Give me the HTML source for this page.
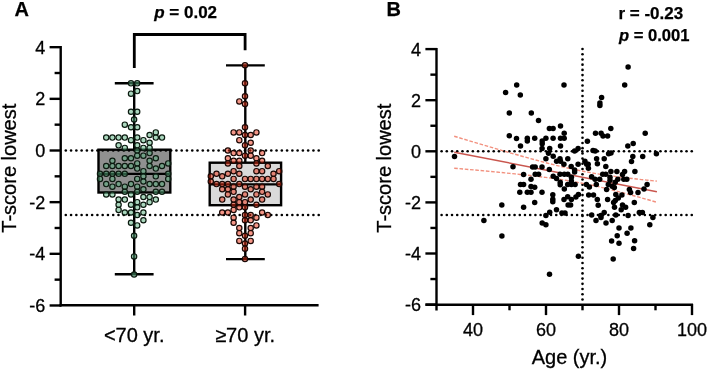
<!DOCTYPE html>
<html><head><meta charset="utf-8"><style>
html,body{margin:0;padding:0;background:#fff;}
body{width:708px;height:373px;position:relative;overflow:hidden;font-family:"Liberation Sans",sans-serif;}
svg{position:absolute;left:0;top:0;will-change:transform;}
.ax{stroke:#000;stroke-width:2.4;stroke-linecap:butt;}
.dot{stroke:#000;stroke-width:2.2;stroke-linecap:round;stroke-dasharray:0 5.25;}
.t{position:absolute;white-space:nowrap;line-height:1;color:#000;}
.b{font-weight:bold;}
</style></head><body>
<svg width="708" height="373" viewBox="0 0 708 373" font-family="Liberation Sans, sans-serif">
<line x1="60.7" y1="45.980000000000004" x2="60.7" y2="306.4" class="ax"/>
<line x1="59.5" y1="305.2" x2="318.6" y2="305.2" class="ax"/>
<line x1="49.6" y1="47.18" x2="61" y2="47.18" class="ax"/>
<line x1="49.6" y1="98.84" x2="61" y2="98.84" class="ax"/>
<line x1="49.6" y1="150.50" x2="61" y2="150.50" class="ax"/>
<line x1="49.6" y1="202.16" x2="61" y2="202.16" class="ax"/>
<line x1="49.6" y1="253.82" x2="61" y2="253.82" class="ax"/>
<line x1="49.6" y1="305.48" x2="61" y2="305.48" class="ax"/>
<line x1="54.6" y1="73.01" x2="61" y2="73.01" class="ax"/>
<line x1="54.6" y1="124.67" x2="61" y2="124.67" class="ax"/>
<line x1="54.6" y1="176.33" x2="61" y2="176.33" class="ax"/>
<line x1="54.6" y1="227.99" x2="61" y2="227.99" class="ax"/>
<line x1="54.6" y1="279.65" x2="61" y2="279.65" class="ax"/>
<line x1="134.2" y1="305" x2="134.2" y2="315.5" class="ax"/>
<line x1="245.1" y1="305" x2="245.1" y2="315.5" class="ax"/>
<polyline points="134.3,68.1 134.3,34.5 245.1,34.5 245.1,50.3" stroke="#000" stroke-width="2.8" fill="none"/>
<rect x="98.5" y="149.7" width="71.8" height="42.8" fill="#909090" stroke="#000" stroke-width="2.4"/>
<line x1="98.5" y1="173.9" x2="170.3" y2="173.9" class="ax"/>
<line x1="134.2" y1="83.3" x2="134.2" y2="149.7" class="ax"/>
<line x1="134.2" y1="192.5" x2="134.2" y2="274.3" class="ax"/>
<line x1="114.8" y1="83.3" x2="153.6" y2="83.3" class="ax"/>
<line x1="114.8" y1="274.3" x2="153.6" y2="274.3" class="ax"/>
<rect x="209.7" y="162.7" width="71.4" height="42.5" fill="#dadada" stroke="#000" stroke-width="2.4"/>
<line x1="209.7" y1="184.4" x2="281.1" y2="184.4" class="ax"/>
<line x1="245.3" y1="65.4" x2="245.3" y2="162.7" class="ax"/>
<line x1="245.3" y1="205.2" x2="245.3" y2="259.1" class="ax"/>
<line x1="226" y1="65.4" x2="264.8" y2="65.4" class="ax"/>
<line x1="226" y1="259.1" x2="264.8" y2="259.1" class="ax"/>
<g fill="#000"><circle cx="65.80" cy="150.45" r="1.3"/><circle cx="71.07" cy="150.45" r="1.3"/><circle cx="76.34" cy="150.45" r="1.3"/><circle cx="81.61" cy="150.45" r="1.3"/><circle cx="86.88" cy="150.45" r="1.3"/><circle cx="92.14" cy="150.45" r="1.3"/><circle cx="97.41" cy="150.45" r="1.3"/><circle cx="102.68" cy="150.45" r="1.3"/><circle cx="107.95" cy="150.45" r="1.3"/><circle cx="113.22" cy="150.45" r="1.3"/><circle cx="118.49" cy="150.45" r="1.3"/><circle cx="123.76" cy="150.45" r="1.3"/><circle cx="129.02" cy="150.45" r="1.3"/><circle cx="134.29" cy="150.45" r="1.3"/><circle cx="139.56" cy="150.45" r="1.3"/><circle cx="144.83" cy="150.45" r="1.3"/><circle cx="150.10" cy="150.45" r="1.3"/><circle cx="155.37" cy="150.45" r="1.3"/><circle cx="160.64" cy="150.45" r="1.3"/><circle cx="165.91" cy="150.45" r="1.3"/><circle cx="171.18" cy="150.45" r="1.3"/><circle cx="176.44" cy="150.45" r="1.3"/><circle cx="181.71" cy="150.45" r="1.3"/><circle cx="186.98" cy="150.45" r="1.3"/><circle cx="192.25" cy="150.45" r="1.3"/><circle cx="197.52" cy="150.45" r="1.3"/><circle cx="202.79" cy="150.45" r="1.3"/><circle cx="208.06" cy="150.45" r="1.3"/><circle cx="213.32" cy="150.45" r="1.3"/><circle cx="218.59" cy="150.45" r="1.3"/><circle cx="223.86" cy="150.45" r="1.3"/><circle cx="229.13" cy="150.45" r="1.3"/><circle cx="234.40" cy="150.45" r="1.3"/><circle cx="239.67" cy="150.45" r="1.3"/><circle cx="244.94" cy="150.45" r="1.3"/><circle cx="250.21" cy="150.45" r="1.3"/><circle cx="255.47" cy="150.45" r="1.3"/><circle cx="260.74" cy="150.45" r="1.3"/><circle cx="266.01" cy="150.45" r="1.3"/><circle cx="271.28" cy="150.45" r="1.3"/><circle cx="276.55" cy="150.45" r="1.3"/><circle cx="281.82" cy="150.45" r="1.3"/><circle cx="287.09" cy="150.45" r="1.3"/><circle cx="292.36" cy="150.45" r="1.3"/><circle cx="297.62" cy="150.45" r="1.3"/><circle cx="302.89" cy="150.45" r="1.3"/><circle cx="308.16" cy="150.45" r="1.3"/><circle cx="313.43" cy="150.45" r="1.3"/><circle cx="318.70" cy="150.45" r="1.3"/><circle cx="65.80" cy="215.0" r="1.3"/><circle cx="71.07" cy="215.0" r="1.3"/><circle cx="76.34" cy="215.0" r="1.3"/><circle cx="81.61" cy="215.0" r="1.3"/><circle cx="86.88" cy="215.0" r="1.3"/><circle cx="92.14" cy="215.0" r="1.3"/><circle cx="97.41" cy="215.0" r="1.3"/><circle cx="102.68" cy="215.0" r="1.3"/><circle cx="107.95" cy="215.0" r="1.3"/><circle cx="113.22" cy="215.0" r="1.3"/><circle cx="118.49" cy="215.0" r="1.3"/><circle cx="123.76" cy="215.0" r="1.3"/><circle cx="129.02" cy="215.0" r="1.3"/><circle cx="134.29" cy="215.0" r="1.3"/><circle cx="139.56" cy="215.0" r="1.3"/><circle cx="144.83" cy="215.0" r="1.3"/><circle cx="150.10" cy="215.0" r="1.3"/><circle cx="155.37" cy="215.0" r="1.3"/><circle cx="160.64" cy="215.0" r="1.3"/><circle cx="165.91" cy="215.0" r="1.3"/><circle cx="171.18" cy="215.0" r="1.3"/><circle cx="176.44" cy="215.0" r="1.3"/><circle cx="181.71" cy="215.0" r="1.3"/><circle cx="186.98" cy="215.0" r="1.3"/><circle cx="192.25" cy="215.0" r="1.3"/><circle cx="197.52" cy="215.0" r="1.3"/><circle cx="202.79" cy="215.0" r="1.3"/><circle cx="208.06" cy="215.0" r="1.3"/><circle cx="213.32" cy="215.0" r="1.3"/><circle cx="218.59" cy="215.0" r="1.3"/><circle cx="223.86" cy="215.0" r="1.3"/><circle cx="229.13" cy="215.0" r="1.3"/><circle cx="234.40" cy="215.0" r="1.3"/><circle cx="239.67" cy="215.0" r="1.3"/><circle cx="244.94" cy="215.0" r="1.3"/><circle cx="250.21" cy="215.0" r="1.3"/><circle cx="255.47" cy="215.0" r="1.3"/><circle cx="260.74" cy="215.0" r="1.3"/><circle cx="266.01" cy="215.0" r="1.3"/><circle cx="271.28" cy="215.0" r="1.3"/><circle cx="276.55" cy="215.0" r="1.3"/><circle cx="281.82" cy="215.0" r="1.3"/><circle cx="287.09" cy="215.0" r="1.3"/><circle cx="292.36" cy="215.0" r="1.3"/><circle cx="297.62" cy="215.0" r="1.3"/><circle cx="302.89" cy="215.0" r="1.3"/><circle cx="308.16" cy="215.0" r="1.3"/><circle cx="313.43" cy="215.0" r="1.3"/><circle cx="318.70" cy="215.0" r="1.3"/></g>
<g fill="#000"><circle cx="441.60" cy="151.3" r="1.3"/><circle cx="446.81" cy="151.3" r="1.3"/><circle cx="452.02" cy="151.3" r="1.3"/><circle cx="457.23" cy="151.3" r="1.3"/><circle cx="462.45" cy="151.3" r="1.3"/><circle cx="467.66" cy="151.3" r="1.3"/><circle cx="472.87" cy="151.3" r="1.3"/><circle cx="478.08" cy="151.3" r="1.3"/><circle cx="483.29" cy="151.3" r="1.3"/><circle cx="488.50" cy="151.3" r="1.3"/><circle cx="493.71" cy="151.3" r="1.3"/><circle cx="498.93" cy="151.3" r="1.3"/><circle cx="504.14" cy="151.3" r="1.3"/><circle cx="509.35" cy="151.3" r="1.3"/><circle cx="514.56" cy="151.3" r="1.3"/><circle cx="519.77" cy="151.3" r="1.3"/><circle cx="524.98" cy="151.3" r="1.3"/><circle cx="530.19" cy="151.3" r="1.3"/><circle cx="535.41" cy="151.3" r="1.3"/><circle cx="540.62" cy="151.3" r="1.3"/><circle cx="545.83" cy="151.3" r="1.3"/><circle cx="551.04" cy="151.3" r="1.3"/><circle cx="556.25" cy="151.3" r="1.3"/><circle cx="561.46" cy="151.3" r="1.3"/><circle cx="566.67" cy="151.3" r="1.3"/><circle cx="571.89" cy="151.3" r="1.3"/><circle cx="577.10" cy="151.3" r="1.3"/><circle cx="582.31" cy="151.3" r="1.3"/><circle cx="587.52" cy="151.3" r="1.3"/><circle cx="592.73" cy="151.3" r="1.3"/><circle cx="597.94" cy="151.3" r="1.3"/><circle cx="603.16" cy="151.3" r="1.3"/><circle cx="608.37" cy="151.3" r="1.3"/><circle cx="613.58" cy="151.3" r="1.3"/><circle cx="618.79" cy="151.3" r="1.3"/><circle cx="624.00" cy="151.3" r="1.3"/><circle cx="629.21" cy="151.3" r="1.3"/><circle cx="634.42" cy="151.3" r="1.3"/><circle cx="639.64" cy="151.3" r="1.3"/><circle cx="644.85" cy="151.3" r="1.3"/><circle cx="650.06" cy="151.3" r="1.3"/><circle cx="655.27" cy="151.3" r="1.3"/><circle cx="660.48" cy="151.3" r="1.3"/><circle cx="665.69" cy="151.3" r="1.3"/><circle cx="670.90" cy="151.3" r="1.3"/><circle cx="676.12" cy="151.3" r="1.3"/><circle cx="681.33" cy="151.3" r="1.3"/><circle cx="686.54" cy="151.3" r="1.3"/><circle cx="691.75" cy="151.3" r="1.3"/><circle cx="441.60" cy="215.0" r="1.3"/><circle cx="446.81" cy="215.0" r="1.3"/><circle cx="452.02" cy="215.0" r="1.3"/><circle cx="457.23" cy="215.0" r="1.3"/><circle cx="462.45" cy="215.0" r="1.3"/><circle cx="467.66" cy="215.0" r="1.3"/><circle cx="472.87" cy="215.0" r="1.3"/><circle cx="478.08" cy="215.0" r="1.3"/><circle cx="483.29" cy="215.0" r="1.3"/><circle cx="488.50" cy="215.0" r="1.3"/><circle cx="493.71" cy="215.0" r="1.3"/><circle cx="498.93" cy="215.0" r="1.3"/><circle cx="504.14" cy="215.0" r="1.3"/><circle cx="509.35" cy="215.0" r="1.3"/><circle cx="514.56" cy="215.0" r="1.3"/><circle cx="519.77" cy="215.0" r="1.3"/><circle cx="524.98" cy="215.0" r="1.3"/><circle cx="530.19" cy="215.0" r="1.3"/><circle cx="535.41" cy="215.0" r="1.3"/><circle cx="540.62" cy="215.0" r="1.3"/><circle cx="545.83" cy="215.0" r="1.3"/><circle cx="551.04" cy="215.0" r="1.3"/><circle cx="556.25" cy="215.0" r="1.3"/><circle cx="561.46" cy="215.0" r="1.3"/><circle cx="566.67" cy="215.0" r="1.3"/><circle cx="571.89" cy="215.0" r="1.3"/><circle cx="577.10" cy="215.0" r="1.3"/><circle cx="582.31" cy="215.0" r="1.3"/><circle cx="587.52" cy="215.0" r="1.3"/><circle cx="592.73" cy="215.0" r="1.3"/><circle cx="597.94" cy="215.0" r="1.3"/><circle cx="603.16" cy="215.0" r="1.3"/><circle cx="608.37" cy="215.0" r="1.3"/><circle cx="613.58" cy="215.0" r="1.3"/><circle cx="618.79" cy="215.0" r="1.3"/><circle cx="624.00" cy="215.0" r="1.3"/><circle cx="629.21" cy="215.0" r="1.3"/><circle cx="634.42" cy="215.0" r="1.3"/><circle cx="639.64" cy="215.0" r="1.3"/><circle cx="644.85" cy="215.0" r="1.3"/><circle cx="650.06" cy="215.0" r="1.3"/><circle cx="655.27" cy="215.0" r="1.3"/><circle cx="660.48" cy="215.0" r="1.3"/><circle cx="665.69" cy="215.0" r="1.3"/><circle cx="670.90" cy="215.0" r="1.3"/><circle cx="676.12" cy="215.0" r="1.3"/><circle cx="681.33" cy="215.0" r="1.3"/><circle cx="686.54" cy="215.0" r="1.3"/><circle cx="691.75" cy="215.0" r="1.3"/><circle cx="582.5" cy="49.00" r="1.3"/><circle cx="582.5" cy="54.22" r="1.3"/><circle cx="582.5" cy="59.44" r="1.3"/><circle cx="582.5" cy="64.66" r="1.3"/><circle cx="582.5" cy="69.88" r="1.3"/><circle cx="582.5" cy="75.09" r="1.3"/><circle cx="582.5" cy="80.31" r="1.3"/><circle cx="582.5" cy="85.53" r="1.3"/><circle cx="582.5" cy="90.75" r="1.3"/><circle cx="582.5" cy="95.97" r="1.3"/><circle cx="582.5" cy="101.19" r="1.3"/><circle cx="582.5" cy="106.41" r="1.3"/><circle cx="582.5" cy="111.62" r="1.3"/><circle cx="582.5" cy="116.84" r="1.3"/><circle cx="582.5" cy="122.06" r="1.3"/><circle cx="582.5" cy="127.28" r="1.3"/><circle cx="582.5" cy="132.50" r="1.3"/><circle cx="582.5" cy="137.72" r="1.3"/><circle cx="582.5" cy="142.94" r="1.3"/><circle cx="582.5" cy="148.16" r="1.3"/><circle cx="582.5" cy="153.38" r="1.3"/><circle cx="582.5" cy="158.59" r="1.3"/><circle cx="582.5" cy="163.81" r="1.3"/><circle cx="582.5" cy="169.03" r="1.3"/><circle cx="582.5" cy="174.25" r="1.3"/><circle cx="582.5" cy="179.47" r="1.3"/><circle cx="582.5" cy="184.69" r="1.3"/><circle cx="582.5" cy="189.91" r="1.3"/><circle cx="582.5" cy="195.12" r="1.3"/><circle cx="582.5" cy="200.34" r="1.3"/><circle cx="582.5" cy="205.56" r="1.3"/><circle cx="582.5" cy="210.78" r="1.3"/><circle cx="582.5" cy="216.00" r="1.3"/><circle cx="582.5" cy="221.22" r="1.3"/><circle cx="582.5" cy="226.44" r="1.3"/><circle cx="582.5" cy="231.66" r="1.3"/><circle cx="582.5" cy="236.88" r="1.3"/><circle cx="582.5" cy="242.09" r="1.3"/><circle cx="582.5" cy="247.31" r="1.3"/><circle cx="582.5" cy="252.53" r="1.3"/><circle cx="582.5" cy="257.75" r="1.3"/><circle cx="582.5" cy="262.97" r="1.3"/><circle cx="582.5" cy="268.19" r="1.3"/><circle cx="582.5" cy="273.41" r="1.3"/><circle cx="582.5" cy="278.62" r="1.3"/><circle cx="582.5" cy="283.84" r="1.3"/><circle cx="582.5" cy="289.06" r="1.3"/><circle cx="582.5" cy="294.28" r="1.3"/><circle cx="582.5" cy="299.50" r="1.3"/></g>
<line x1="436.5" y1="47.90" x2="436.5" y2="310.5" class="ax"/>
<line x1="425.5" y1="304.8" x2="693" y2="304.8" class="ax"/>
<line x1="425.4" y1="49.10" x2="437" y2="49.10" class="ax"/>
<line x1="425.4" y1="100.20" x2="437" y2="100.20" class="ax"/>
<line x1="425.4" y1="151.30" x2="437" y2="151.30" class="ax"/>
<line x1="425.4" y1="202.40" x2="437" y2="202.40" class="ax"/>
<line x1="425.4" y1="253.50" x2="437" y2="253.50" class="ax"/>
<line x1="425.4" y1="304.60" x2="437" y2="304.60" class="ax"/>
<line x1="430.4" y1="74.65" x2="437" y2="74.65" class="ax"/>
<line x1="430.4" y1="125.75" x2="437" y2="125.75" class="ax"/>
<line x1="430.4" y1="176.85" x2="437" y2="176.85" class="ax"/>
<line x1="430.4" y1="227.95" x2="437" y2="227.95" class="ax"/>
<line x1="430.4" y1="279.05" x2="437" y2="279.05" class="ax"/>
<line x1="473.00" y1="304" x2="473.00" y2="315.1" class="ax"/>
<line x1="546.00" y1="304" x2="546.00" y2="315.1" class="ax"/>
<line x1="619.00" y1="304" x2="619.00" y2="315.1" class="ax"/>
<line x1="692.00" y1="304" x2="692.00" y2="315.1" class="ax"/>
<line x1="509.50" y1="304" x2="509.50" y2="310.3" class="ax"/>
<line x1="582.50" y1="304" x2="582.50" y2="310.3" class="ax"/>
<line x1="655.50" y1="304" x2="655.50" y2="310.3" class="ax"/>
<line x1="454.2" y1="152.20" x2="656.9" y2="191.73" stroke="#c9564e" stroke-width="1.4"/>
<polyline points="454.2,136.22 459.3,137.75 464.3,139.28 469.4,140.80 474.5,142.32 479.5,143.83 484.6,145.34 489.7,146.84 494.7,148.33 499.8,149.82 504.9,151.30 509.9,152.77 515.0,154.22 520.1,155.67 525.1,157.09 530.2,158.50 535.3,159.89 540.3,161.26 545.4,162.60 550.5,163.90 555.5,165.18 560.6,166.41 565.7,167.59 570.8,168.73 575.8,169.82 580.9,170.84 586.0,171.82 591.0,172.73 596.1,173.60 601.2,174.41 606.2,175.17 611.3,175.89 616.4,176.58 621.4,177.23 626.5,177.85 631.6,178.44 636.6,179.02 641.7,179.58 646.8,180.12 651.8,180.64 656.9,181.15" fill="none" stroke="#f2907e" stroke-width="1.4" stroke-dasharray="3.6 1.7"/>
<polyline points="454.2,168.18 459.3,168.62 464.3,169.07 469.4,169.53 474.5,169.99 479.5,170.45 484.6,170.92 489.7,171.40 494.7,171.88 499.8,172.37 504.9,172.87 509.9,173.37 515.0,173.89 520.1,174.43 525.1,174.98 530.2,175.54 535.3,176.13 540.3,176.74 545.4,177.38 550.5,178.05 555.5,178.75 560.6,179.49 565.7,180.28 570.8,181.12 575.8,182.02 580.9,182.96 586.0,183.97 591.0,185.03 596.1,186.14 601.2,187.31 606.2,188.52 611.3,189.77 616.4,191.07 621.4,192.39 626.5,193.75 631.6,195.13 636.6,196.53 641.7,197.95 646.8,199.38 651.8,200.84 656.9,202.30" fill="none" stroke="#f2907e" stroke-width="1.4" stroke-dasharray="3.6 1.7"/>
<g fill="#000"><circle cx="505.6" cy="92.6" r="2.75"/><circle cx="516.7" cy="84.9" r="2.75"/><circle cx="520.3" cy="95.1" r="2.75"/><circle cx="564.0" cy="84.9" r="2.75"/><circle cx="628.1" cy="66.9" r="2.75"/><circle cx="624.7" cy="85.1" r="2.75"/><circle cx="601.6" cy="97.6" r="2.75"/><circle cx="599.9" cy="102.9" r="2.75"/><circle cx="599.9" cy="105.6" r="2.75"/><circle cx="509.3" cy="113.0" r="2.75"/><circle cx="531.3" cy="113.1" r="2.75"/><circle cx="538.5" cy="120.5" r="2.75"/><circle cx="560.5" cy="125.9" r="2.75"/><circle cx="549.4" cy="128.4" r="2.75"/><circle cx="553.1" cy="128.4" r="2.75"/><circle cx="564.2" cy="133.3" r="2.75"/><circle cx="509.3" cy="135.8" r="2.75"/><circle cx="516.5" cy="138.6" r="2.75"/><circle cx="527.3" cy="138.3" r="2.75"/><circle cx="527.3" cy="141.0" r="2.75"/><circle cx="534.7" cy="138.3" r="2.75"/><circle cx="545.9" cy="138.3" r="2.75"/><circle cx="542.2" cy="141.0" r="2.75"/><circle cx="542.2" cy="143.8" r="2.75"/><circle cx="553.1" cy="138.3" r="2.75"/><circle cx="560.5" cy="138.3" r="2.75"/><circle cx="564.2" cy="138.3" r="2.75"/><circle cx="520.5" cy="146.0" r="2.75"/><circle cx="560.5" cy="146.0" r="2.75"/><circle cx="542.1" cy="148.4" r="2.75"/><circle cx="549.7" cy="148.4" r="2.75"/><circle cx="454.5" cy="156.5" r="2.75"/><circle cx="610.8" cy="128.4" r="2.75"/><circle cx="595.5" cy="133.3" r="2.75"/><circle cx="601.1" cy="133.3" r="2.75"/><circle cx="603.0" cy="136.1" r="2.75"/><circle cx="607.6" cy="136.1" r="2.75"/><circle cx="645.2" cy="133.3" r="2.75"/><circle cx="587.4" cy="141.3" r="2.75"/><circle cx="633.2" cy="143.5" r="2.75"/><circle cx="627.8" cy="146.0" r="2.75"/><circle cx="578.1" cy="148.5" r="2.75"/><circle cx="593.0" cy="150.4" r="2.75"/><circle cx="548.5" cy="153.2" r="2.75"/><circle cx="553.2" cy="156.2" r="2.75"/><circle cx="545.9" cy="158.7" r="2.75"/><circle cx="560.0" cy="158.7" r="2.75"/><circle cx="567.8" cy="158.7" r="2.75"/><circle cx="556.6" cy="161.3" r="2.75"/><circle cx="560.5" cy="161.3" r="2.75"/><circle cx="563.9" cy="164.3" r="2.75"/><circle cx="574.6" cy="151.0" r="2.75"/><circle cx="532.6" cy="166.9" r="2.75"/><circle cx="535.2" cy="166.9" r="2.75"/><circle cx="542.0" cy="166.9" r="2.75"/><circle cx="549.3" cy="169.5" r="2.75"/><circle cx="571.2" cy="166.5" r="2.75"/><circle cx="578.1" cy="164.3" r="2.75"/><circle cx="574.6" cy="169.9" r="2.75"/><circle cx="574.6" cy="172.0" r="2.75"/><circle cx="586.7" cy="164.3" r="2.75"/><circle cx="588.4" cy="168.2" r="2.75"/><circle cx="535.2" cy="174.2" r="2.75"/><circle cx="538.6" cy="174.2" r="2.75"/><circle cx="553.2" cy="176.3" r="2.75"/><circle cx="560.0" cy="174.2" r="2.75"/><circle cx="564.3" cy="174.2" r="2.75"/><circle cx="567.8" cy="174.2" r="2.75"/><circle cx="513.0" cy="166.8" r="2.75"/><circle cx="523.6" cy="174.6" r="2.75"/><circle cx="531.0" cy="179.2" r="2.75"/><circle cx="556.5" cy="178.6" r="2.75"/><circle cx="571.4" cy="177.3" r="2.75"/><circle cx="560.2" cy="182.3" r="2.75"/><circle cx="560.2" cy="184.8" r="2.75"/><circle cx="567.7" cy="184.5" r="2.75"/><circle cx="571.4" cy="184.5" r="2.75"/><circle cx="575.1" cy="184.5" r="2.75"/><circle cx="571.4" cy="181.0" r="2.75"/><circle cx="520.5" cy="184.5" r="2.75"/><circle cx="523.6" cy="184.5" r="2.75"/><circle cx="531.0" cy="186.6" r="2.75"/><circle cx="534.7" cy="187.3" r="2.75"/><circle cx="564.3" cy="189.1" r="2.75"/><circle cx="595.2" cy="151.0" r="2.75"/><circle cx="608.6" cy="153.7" r="2.75"/><circle cx="611.0" cy="153.1" r="2.75"/><circle cx="632.8" cy="156.4" r="2.75"/><circle cx="642.7" cy="156.4" r="2.75"/><circle cx="656.4" cy="153.7" r="2.75"/><circle cx="631.5" cy="161.5" r="2.75"/><circle cx="596.6" cy="158.7" r="2.75"/><circle cx="597.4" cy="163.8" r="2.75"/><circle cx="604.2" cy="158.7" r="2.75"/><circle cx="605.8" cy="166.6" r="2.75"/><circle cx="584.9" cy="161.2" r="2.75"/><circle cx="588.2" cy="164.3" r="2.75"/><circle cx="610.9" cy="171.6" r="2.75"/><circle cx="616.9" cy="171.6" r="2.75"/><circle cx="624.6" cy="171.6" r="2.75"/><circle cx="634.9" cy="171.6" r="2.75"/><circle cx="602.7" cy="174.2" r="2.75"/><circle cx="605.8" cy="174.2" r="2.75"/><circle cx="622.5" cy="174.5" r="2.75"/><circle cx="591.6" cy="176.7" r="2.75"/><circle cx="595.0" cy="179.3" r="2.75"/><circle cx="599.7" cy="179.3" r="2.75"/><circle cx="610.0" cy="177.2" r="2.75"/><circle cx="610.0" cy="180.2" r="2.75"/><circle cx="617.8" cy="179.3" r="2.75"/><circle cx="623.8" cy="179.3" r="2.75"/><circle cx="626.8" cy="179.3" r="2.75"/><circle cx="615.2" cy="182.3" r="2.75"/><circle cx="596.3" cy="184.5" r="2.75"/><circle cx="586.4" cy="184.5" r="2.75"/><circle cx="589.4" cy="187.0" r="2.75"/><circle cx="608.3" cy="184.5" r="2.75"/><circle cx="612.2" cy="186.2" r="2.75"/><circle cx="614.3" cy="187.5" r="2.75"/><circle cx="606.6" cy="189.6" r="2.75"/><circle cx="629.4" cy="189.6" r="2.75"/><circle cx="644.0" cy="189.1" r="2.75"/><circle cx="647.1" cy="184.5" r="2.75"/><circle cx="638.0" cy="192.4" r="2.75"/><circle cx="630.6" cy="192.4" r="2.75"/><circle cx="621.9" cy="194.9" r="2.75"/><circle cx="634.3" cy="202.4" r="2.75"/><circle cx="622.5" cy="204.9" r="2.75"/><circle cx="625.6" cy="207.3" r="2.75"/><circle cx="621.2" cy="209.8" r="2.75"/><circle cx="628.1" cy="215.4" r="2.75"/><circle cx="639.3" cy="212.6" r="2.75"/><circle cx="642.4" cy="212.6" r="2.75"/><circle cx="652.9" cy="217.5" r="2.75"/><circle cx="649.8" cy="224.7" r="2.75"/><circle cx="578.4" cy="194.4" r="2.75"/><circle cx="575.9" cy="197.0" r="2.75"/><circle cx="588.7" cy="194.9" r="2.75"/><circle cx="593.5" cy="194.9" r="2.75"/><circle cx="597.3" cy="199.6" r="2.75"/><circle cx="598.2" cy="205.2" r="2.75"/><circle cx="607.6" cy="199.6" r="2.75"/><circle cx="615.8" cy="194.4" r="2.75"/><circle cx="618.3" cy="197.9" r="2.75"/><circle cx="615.3" cy="200.5" r="2.75"/><circle cx="613.6" cy="202.6" r="2.75"/><circle cx="614.5" cy="207.3" r="2.75"/><circle cx="604.2" cy="212.5" r="2.75"/><circle cx="591.7" cy="215.0" r="2.75"/><circle cx="600.8" cy="215.5" r="2.75"/><circle cx="615.8" cy="215.0" r="2.75"/><circle cx="568.1" cy="205.0" r="2.75"/><circle cx="570.6" cy="205.0" r="2.75"/><circle cx="561.9" cy="213.1" r="2.75"/><circle cx="565.0" cy="213.1" r="2.75"/><circle cx="601.0" cy="217.4" r="2.75"/><circle cx="596.0" cy="220.5" r="2.75"/><circle cx="606.0" cy="223.0" r="2.75"/><circle cx="612.2" cy="220.5" r="2.75"/><circle cx="619.0" cy="228.0" r="2.75"/><circle cx="630.9" cy="228.0" r="2.75"/><circle cx="627.1" cy="233.3" r="2.75"/><circle cx="617.2" cy="235.8" r="2.75"/><circle cx="611.6" cy="241.0" r="2.75"/><circle cx="619.0" cy="243.3" r="2.75"/><circle cx="634.6" cy="240.8" r="2.75"/><circle cx="633.6" cy="248.5" r="2.75"/><circle cx="519.8" cy="192.2" r="2.75"/><circle cx="527.3" cy="192.2" r="2.75"/><circle cx="531.0" cy="192.2" r="2.75"/><circle cx="542.0" cy="192.2" r="2.75"/><circle cx="552.8" cy="194.7" r="2.75"/><circle cx="552.8" cy="199.3" r="2.75"/><circle cx="552.8" cy="201.8" r="2.75"/><circle cx="564.0" cy="199.6" r="2.75"/><circle cx="567.7" cy="196.8" r="2.75"/><circle cx="571.4" cy="199.6" r="2.75"/><circle cx="501.8" cy="204.9" r="2.75"/><circle cx="523.6" cy="207.3" r="2.75"/><circle cx="534.7" cy="202.4" r="2.75"/><circle cx="549.7" cy="212.3" r="2.75"/><circle cx="545.9" cy="215.4" r="2.75"/><circle cx="556.5" cy="209.8" r="2.75"/><circle cx="542.2" cy="222.9" r="2.75"/><circle cx="545.9" cy="224.7" r="2.75"/><circle cx="483.9" cy="220.5" r="2.75"/><circle cx="501.9" cy="236.0" r="2.75"/><circle cx="578.4" cy="256.2" r="2.75"/><circle cx="613.2" cy="258.9" r="2.75"/><circle cx="549.5" cy="274.2" r="2.75"/></g>
<g fill="rgb(85,175,125)" fill-opacity="0.5" stroke="#0c1a10" stroke-width="1.2"><circle cx="131.00" cy="83.34" r="2.65"/><circle cx="137.20" cy="83.34" r="2.65"/><circle cx="137.20" cy="91.09" r="2.65"/><circle cx="131.00" cy="93.67" r="2.65"/><circle cx="131.00" cy="111.75" r="2.65"/><circle cx="137.20" cy="111.75" r="2.65"/><circle cx="134.10" cy="119.50" r="2.65"/><circle cx="124.80" cy="124.67" r="2.65"/><circle cx="131.00" cy="127.25" r="2.65"/><circle cx="137.20" cy="127.25" r="2.65"/><circle cx="106.20" cy="137.59" r="2.65"/><circle cx="112.40" cy="137.59" r="2.65"/><circle cx="118.60" cy="137.59" r="2.65"/><circle cx="124.80" cy="137.59" r="2.65"/><circle cx="131.00" cy="140.17" r="2.65"/><circle cx="137.20" cy="137.59" r="2.65"/><circle cx="143.40" cy="140.17" r="2.65"/><circle cx="149.60" cy="135.00" r="2.65"/><circle cx="155.80" cy="132.42" r="2.65"/><circle cx="155.80" cy="137.59" r="2.65"/><circle cx="162.00" cy="137.59" r="2.65"/><circle cx="149.60" cy="142.75" r="2.65"/><circle cx="118.60" cy="145.33" r="2.65"/><circle cx="124.80" cy="147.92" r="2.65"/><circle cx="137.20" cy="145.33" r="2.65"/><circle cx="143.40" cy="147.92" r="2.65"/><circle cx="149.60" cy="147.92" r="2.65"/><circle cx="137.20" cy="150.50" r="2.65"/><circle cx="149.60" cy="153.08" r="2.65"/><circle cx="137.20" cy="155.67" r="2.65"/><circle cx="143.40" cy="155.67" r="2.65"/><circle cx="124.80" cy="158.25" r="2.65"/><circle cx="131.00" cy="158.25" r="2.65"/><circle cx="155.80" cy="158.25" r="2.65"/><circle cx="112.40" cy="160.83" r="2.65"/><circle cx="149.60" cy="160.83" r="2.65"/><circle cx="137.20" cy="163.41" r="2.65"/><circle cx="168.20" cy="163.41" r="2.65"/><circle cx="106.20" cy="166.00" r="2.65"/><circle cx="112.40" cy="166.00" r="2.65"/><circle cx="118.60" cy="166.00" r="2.65"/><circle cx="124.80" cy="166.00" r="2.65"/><circle cx="131.00" cy="166.00" r="2.65"/><circle cx="149.60" cy="166.00" r="2.65"/><circle cx="162.00" cy="166.00" r="2.65"/><circle cx="137.20" cy="168.58" r="2.65"/><circle cx="155.80" cy="168.58" r="2.65"/><circle cx="143.40" cy="171.16" r="2.65"/><circle cx="100.00" cy="173.75" r="2.65"/><circle cx="106.20" cy="173.75" r="2.65"/><circle cx="112.40" cy="173.75" r="2.65"/><circle cx="118.60" cy="173.75" r="2.65"/><circle cx="124.80" cy="173.75" r="2.65"/><circle cx="168.20" cy="173.75" r="2.65"/><circle cx="143.40" cy="176.33" r="2.65"/><circle cx="155.80" cy="176.33" r="2.65"/><circle cx="100.00" cy="178.91" r="2.65"/><circle cx="112.40" cy="178.91" r="2.65"/><circle cx="137.20" cy="178.91" r="2.65"/><circle cx="168.20" cy="178.91" r="2.65"/><circle cx="143.40" cy="181.50" r="2.65"/><circle cx="106.20" cy="184.08" r="2.65"/><circle cx="118.60" cy="184.08" r="2.65"/><circle cx="131.00" cy="184.08" r="2.65"/><circle cx="149.60" cy="184.08" r="2.65"/><circle cx="155.80" cy="184.08" r="2.65"/><circle cx="162.00" cy="184.08" r="2.65"/><circle cx="112.40" cy="186.66" r="2.65"/><circle cx="124.80" cy="186.66" r="2.65"/><circle cx="137.20" cy="186.66" r="2.65"/><circle cx="143.40" cy="189.25" r="2.65"/><circle cx="124.80" cy="191.83" r="2.65"/><circle cx="137.20" cy="191.83" r="2.65"/><circle cx="155.80" cy="191.83" r="2.65"/><circle cx="162.00" cy="191.83" r="2.65"/><circle cx="106.20" cy="194.41" r="2.65"/><circle cx="112.40" cy="194.41" r="2.65"/><circle cx="131.00" cy="194.41" r="2.65"/><circle cx="143.40" cy="196.99" r="2.65"/><circle cx="149.60" cy="196.99" r="2.65"/><circle cx="118.60" cy="199.58" r="2.65"/><circle cx="124.80" cy="199.58" r="2.65"/><circle cx="155.80" cy="199.58" r="2.65"/><circle cx="137.20" cy="202.16" r="2.65"/><circle cx="149.60" cy="202.16" r="2.65"/><circle cx="118.60" cy="204.74" r="2.65"/><circle cx="131.00" cy="204.74" r="2.65"/><circle cx="143.40" cy="204.74" r="2.65"/><circle cx="137.20" cy="207.33" r="2.65"/><circle cx="118.60" cy="209.91" r="2.65"/><circle cx="124.80" cy="212.49" r="2.65"/><circle cx="131.00" cy="212.49" r="2.65"/><circle cx="143.40" cy="212.49" r="2.65"/><circle cx="137.20" cy="215.07" r="2.65"/><circle cx="143.40" cy="220.24" r="2.65"/><circle cx="131.00" cy="222.82" r="2.65"/><circle cx="137.20" cy="225.41" r="2.65"/><circle cx="134.10" cy="235.74" r="2.65"/><circle cx="134.10" cy="256.40" r="2.65"/><circle cx="134.10" cy="274.48" r="2.65"/></g>
<g fill="rgb(235,45,15)" fill-opacity="0.5" stroke="#1a0805" stroke-width="1.2"><circle cx="245.00" cy="65.26" r="2.65"/><circle cx="245.00" cy="83.34" r="2.65"/><circle cx="245.00" cy="96.26" r="2.65"/><circle cx="239.30" cy="101.42" r="2.65"/><circle cx="245.00" cy="104.01" r="2.65"/><circle cx="245.00" cy="127.25" r="2.65"/><circle cx="233.60" cy="132.42" r="2.65"/><circle cx="239.30" cy="132.42" r="2.65"/><circle cx="245.00" cy="135.00" r="2.65"/><circle cx="250.70" cy="135.00" r="2.65"/><circle cx="256.40" cy="132.42" r="2.65"/><circle cx="239.30" cy="140.17" r="2.65"/><circle cx="250.70" cy="142.75" r="2.65"/><circle cx="245.00" cy="145.33" r="2.65"/><circle cx="227.90" cy="150.50" r="2.65"/><circle cx="250.70" cy="150.50" r="2.65"/><circle cx="233.60" cy="153.08" r="2.65"/><circle cx="239.30" cy="153.08" r="2.65"/><circle cx="262.10" cy="153.08" r="2.65"/><circle cx="245.00" cy="155.67" r="2.65"/><circle cx="250.70" cy="155.67" r="2.65"/><circle cx="227.90" cy="158.25" r="2.65"/><circle cx="256.40" cy="158.25" r="2.65"/><circle cx="233.60" cy="160.83" r="2.65"/><circle cx="239.30" cy="160.83" r="2.65"/><circle cx="262.10" cy="160.83" r="2.65"/><circle cx="227.90" cy="163.41" r="2.65"/><circle cx="256.40" cy="163.41" r="2.65"/><circle cx="239.30" cy="166.00" r="2.65"/><circle cx="267.80" cy="166.00" r="2.65"/><circle cx="233.60" cy="171.16" r="2.65"/><circle cx="256.40" cy="171.16" r="2.65"/><circle cx="262.10" cy="171.16" r="2.65"/><circle cx="279.20" cy="171.16" r="2.65"/><circle cx="216.50" cy="173.75" r="2.65"/><circle cx="227.90" cy="173.75" r="2.65"/><circle cx="239.30" cy="173.75" r="2.65"/><circle cx="273.50" cy="173.75" r="2.65"/><circle cx="210.80" cy="176.33" r="2.65"/><circle cx="222.20" cy="176.33" r="2.65"/><circle cx="233.60" cy="178.91" r="2.65"/><circle cx="245.00" cy="178.91" r="2.65"/><circle cx="250.70" cy="178.91" r="2.65"/><circle cx="256.40" cy="178.91" r="2.65"/><circle cx="262.10" cy="178.91" r="2.65"/><circle cx="267.80" cy="178.91" r="2.65"/><circle cx="273.50" cy="178.91" r="2.65"/><circle cx="210.80" cy="181.50" r="2.65"/><circle cx="216.50" cy="184.08" r="2.65"/><circle cx="222.20" cy="184.08" r="2.65"/><circle cx="227.90" cy="184.08" r="2.65"/><circle cx="239.30" cy="184.08" r="2.65"/><circle cx="279.20" cy="184.08" r="2.65"/><circle cx="233.60" cy="186.66" r="2.65"/><circle cx="245.00" cy="186.66" r="2.65"/><circle cx="256.40" cy="186.66" r="2.65"/><circle cx="262.10" cy="186.66" r="2.65"/><circle cx="222.20" cy="189.25" r="2.65"/><circle cx="227.90" cy="189.25" r="2.65"/><circle cx="250.70" cy="189.25" r="2.65"/><circle cx="233.60" cy="191.83" r="2.65"/><circle cx="262.10" cy="191.83" r="2.65"/><circle cx="227.90" cy="194.41" r="2.65"/><circle cx="245.00" cy="194.41" r="2.65"/><circle cx="256.40" cy="194.41" r="2.65"/><circle cx="267.80" cy="194.41" r="2.65"/><circle cx="239.30" cy="196.99" r="2.65"/><circle cx="222.20" cy="199.58" r="2.65"/><circle cx="233.60" cy="199.58" r="2.65"/><circle cx="250.70" cy="199.58" r="2.65"/><circle cx="262.10" cy="199.58" r="2.65"/><circle cx="239.30" cy="202.16" r="2.65"/><circle cx="245.00" cy="202.16" r="2.65"/><circle cx="233.60" cy="204.74" r="2.65"/><circle cx="256.40" cy="204.74" r="2.65"/><circle cx="239.30" cy="207.33" r="2.65"/><circle cx="245.00" cy="207.33" r="2.65"/><circle cx="233.60" cy="209.91" r="2.65"/><circle cx="222.20" cy="212.49" r="2.65"/><circle cx="227.90" cy="212.49" r="2.65"/><circle cx="262.10" cy="212.49" r="2.65"/><circle cx="245.00" cy="215.07" r="2.65"/><circle cx="250.70" cy="215.07" r="2.65"/><circle cx="267.80" cy="215.07" r="2.65"/><circle cx="233.60" cy="217.66" r="2.65"/><circle cx="256.40" cy="217.66" r="2.65"/><circle cx="245.00" cy="220.24" r="2.65"/><circle cx="250.70" cy="220.24" r="2.65"/><circle cx="233.60" cy="222.82" r="2.65"/><circle cx="256.40" cy="225.41" r="2.65"/><circle cx="239.30" cy="227.99" r="2.65"/><circle cx="250.70" cy="227.99" r="2.65"/><circle cx="239.30" cy="233.16" r="2.65"/><circle cx="250.70" cy="233.16" r="2.65"/><circle cx="245.00" cy="235.74" r="2.65"/><circle cx="239.30" cy="240.91" r="2.65"/><circle cx="250.70" cy="240.91" r="2.65"/><circle cx="245.00" cy="243.49" r="2.65"/><circle cx="245.00" cy="248.65" r="2.65"/><circle cx="245.00" cy="258.99" r="2.65"/></g>
<g font-size="18" text-anchor="end" stroke="#000" stroke-width="0.3">
<text x="45.3" y="53.58">4</text><text x="45.3" y="105.24">2</text><text x="45.3" y="156.90">0</text><text x="45.3" y="208.56">-2</text><text x="45.3" y="260.22">-4</text><text x="45.3" y="311.88">-6</text>
<text x="421" y="55.50">4</text><text x="421" y="106.60">2</text><text x="421" y="157.70">0</text><text x="421" y="208.80">-2</text><text x="421" y="259.90">-4</text><text x="421" y="311.00">-6</text>
</g>
<g font-weight="bold" stroke="#000" stroke-width="0.25">
<text x="14.4" y="15.6" font-size="20">A</text>
<text x="386.4" y="15.5" font-size="20">B</text>
<text x="154.2" y="18.0" font-size="17"><tspan font-style="italic">p</tspan> = 0.02</text>
<text x="618.4" y="19.3" font-size="17">r = -0.23</text>
<text x="618.9" y="40.6" font-size="16.6"><tspan font-style="italic">p</tspan> = 0.001</text>
</g>
<g font-size="18" text-anchor="middle" stroke="#000" stroke-width="0.3">
<text x="134.2" y="341.8" font-size="20">&lt;70 yr.</text>
<text x="245.1" y="341.8" font-size="20">≥70 yr.</text>
<text x="473.00" y="336.2">40</text><text x="546.00" y="336.2">60</text><text x="619.00" y="336.2">80</text><text x="692.00" y="336.2">100</text>
<text x="569.5" y="363.9" font-size="20">Age (yr.)</text>
</g>
<text transform="translate(16.1,168.2) rotate(-90)" font-size="20" text-anchor="middle" stroke="#000" stroke-width="0.3">T-score lowest</text>
<text transform="translate(390.5,168.2) rotate(-90)" font-size="20" text-anchor="middle" stroke="#000" stroke-width="0.3">T-score lowest</text>
</svg>

</body></html>
